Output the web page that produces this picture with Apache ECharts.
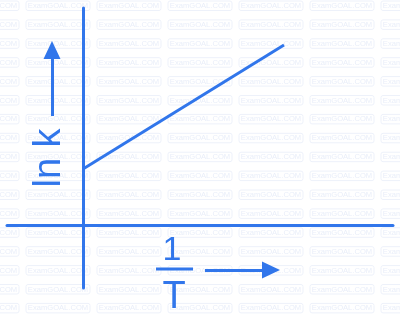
<!DOCTYPE html>
<html>
<head>
<meta charset="utf-8">
<script src="https://cdn.jsdelivr.net/npm/echarts@6/dist/echarts.min.js"></script>
<style>html,body{margin:0;padding:0;background:#fff}#c{width:400px;height:316px}</style>
</head>
<body>
<div id="c"></div>
<script>
// Schematic: ln k versus 1/T (arbitrary units)
var invT = [0, 4.02];          // 1/T values of the line's ends
var lnK = [1.12, 3.6];         // ln k values at those ends
var xRange = [-1.52, 6.2];
var yRange = [-1.26, 4.34];
var yArrow = [[-0.62, 2.18], [-0.62, 3.5]];    // annotation arrow beside the y label
var xArrow = [[2.44, -0.9], [3.76, -0.9]];     // annotation arrow beside the x label
var yLabel = 'ln k';
var xLabelNum = '1';
var xLabelDen = 'T';
var watermark = 'ExamGOAL.COM';

var BLUE = '#3176eb';
var chart = echarts.init(document.getElementById('c'), null, {renderer: 'canvas'});

var wm = [];
for (var r = 0; r < 17; r++) {
  for (var c = -1; c < 6; c++) {
    var x0 = 26 + c * 71, y0 = 1 + r * 18.9;
    wm.push({type: 'rect', silent: true, z: -10,
      shape: {x: x0, y: y0, width: 64, height: 9.5, r: 2},
      style: {fill: 'none', stroke: '#edf1fa', lineWidth: 1}});
    wm.push({type: 'text', silent: true, z: -10, x: x0 + 32, y: y0 + 5,
      style: {text: watermark, fill: '#e9eef9', font: '7.6px "Liberation Sans", Arial, sans-serif', align: 'center', verticalAlign: 'middle'}});
  }
}

var pts = invT.map(function (v, i) { return [v, lnK[i]]; });

chart.setOption({
  animation: false,
  grid: {left: 7, right: 7, top: 8, bottom: 28, containLabel: false},
  xAxis: {type: 'value', min: xRange[0], max: xRange[1],
    axisLine: {onZero: true, lineStyle: {color: BLUE, width: 3}},
    axisTick: {show: false}, axisLabel: {show: false}, splitLine: {show: false}},
  yAxis: {type: 'value', min: yRange[0], max: yRange[1],
    axisLine: {onZero: true, lineStyle: {color: BLUE, width: 3}},
    axisTick: {show: false}, axisLabel: {show: false}, splitLine: {show: false}},
  series: [{
    type: 'line', data: pts, symbol: 'none', lineStyle: {color: BLUE, width: 3},
    markLine: {
      silent: true, symbol: ['none', 'triangle'], symbolSize: [17, 18],
      label: {show: false},
      lineStyle: {color: BLUE, width: 3, type: 'solid'},
      data: [
        [{coord: yArrow[0]}, {coord: yArrow[1]}],
        [{coord: xArrow[0]}, {coord: xArrow[1]}]
      ]
    }
  }],
  graphic: wm.concat([
    {type: 'text', x: 50, y: 158, rotation: Math.PI / 2,
      style: {text: yLabel, fill: BLUE, font: '38px "Liberation Sans", Arial, sans-serif', align: 'center', verticalAlign: 'middle'}},
    {type: 'text', x: 172, y: 251,
      style: {text: xLabelNum, fill: BLUE, font: '34px "Liberation Sans", Arial, sans-serif', align: 'center', verticalAlign: 'middle'}},
    {type: 'line', shape: {x1: 156, y1: 269, x2: 193, y2: 269}, style: {stroke: BLUE, lineWidth: 3}},
    {type: 'text', x: 174, y: 298,
      style: {text: xLabelDen, fill: BLUE, font: '38px "Liberation Sans", Arial, sans-serif', align: 'center', verticalAlign: 'middle'}}
  ])
});
</script>
</body>
</html>
